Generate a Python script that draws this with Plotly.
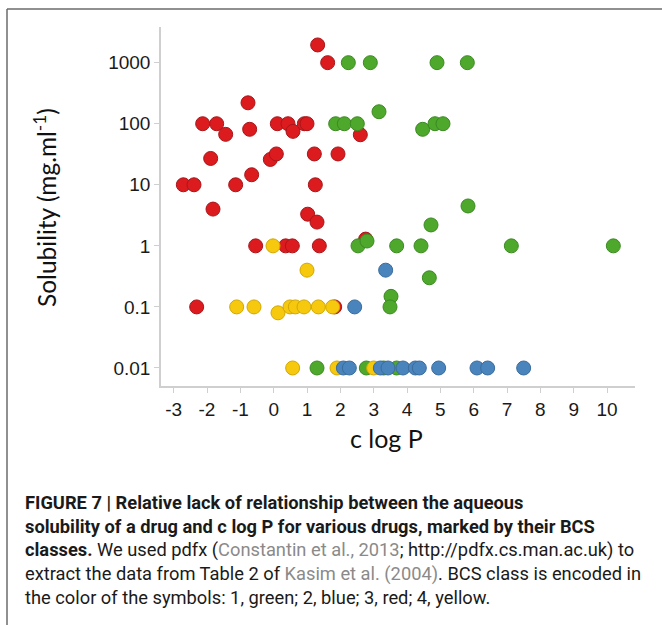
import plotly.graph_objects as go

# ---- data (c log P, solubility mg/ml) by BCS class ----
class3_red_x = [1.32, 1.62, -0.77, -2.13, -1.71, -1.44, -0.72, 0.11, 0.43, 0.58, 0.92, 1.0,
                1.22, 1.93, 2.6, -1.89, -0.1, 0.08, -2.71, -2.39, -1.14, -0.66, 1.25,
                -1.82, 1.02, 1.3, -0.54, 0.36, 0.56, 1.37, 2.76, -2.31, 1.83]
class3_red_y = [1950, 1000, 220, 100, 100, 67, 81, 100, 100, 75, 100, 100,
                32, 32, 66, 27, 26, 32, 10, 10, 10, 14.6, 10,
                4.0, 3.3, 2.45, 1, 1, 1, 1, 1.29, 0.1, 0.1]

class1_green_x = [2.24, 2.9, 4.9, 5.81, 1.86, 2.12, 2.51, 3.16, 4.47, 4.84, 5.08, 5.83,
                  4.72, 2.53, 2.8, 3.69, 4.42, 7.13, 10.19, 4.67, 3.52, 3.49,
                  1.3, 2.78, 3.3, 3.69]
class1_green_y = [1000, 1000, 1000, 1000, 100, 100, 100, 157, 81, 100, 100, 4.5,
                  2.2, 1, 1.2, 1, 1, 1, 1, 0.30, 0.149, 0.1,
                  0.01, 0.01, 0.01, 0.01]

class4_yellow_x = [-0.02, 1.0, -1.11, -0.59, 0.13, 0.49, 0.65, 0.91, 1.34, 1.77, 0.57, 1.9, 3.0]
class4_yellow_y = [1, 0.40, 0.1, 0.1, 0.08, 0.1, 0.1, 0.1, 0.1, 0.1, 0.01, 0.01, 0.01]

class2_blue_x = [3.36, 2.43, 2.09, 2.27, 3.2, 3.43, 3.88, 4.25, 4.37, 4.95, 6.1, 6.42, 7.5]
class2_blue_y = [0.40, 0.1, 0.01, 0.01, 0.01, 0.01, 0.01, 0.01, 0.01, 0.01, 0.01, 0.01, 0.01]

x_ticks = [-3, -2, -1, 0, 1, 2, 3, 4, 5, 6, 7, 8, 9, 10]
x_ticklabels = ["-3", "-2", "-1", "0", "1", "2", "3", "4", "5", "6", "7", "8", "9", "10"]
y_ticks = [0.01, 0.1, 1, 10, 100, 1000]
y_ticklabels = ["0.01", "0.1", "1", "10", "100", "1000"]

series = [
    (class3_red_x, class3_red_y, "#dc1b1f", "#a8161a", "BCS 3"),
    (class1_green_x, class1_green_y, "#4ea82b", "#3b8a22", "BCS 1"),
    (class4_yellow_x, class4_yellow_y, "#f6c90e", "#d2a800", "BCS 4"),
    (class2_blue_x, class2_blue_y, "#4a84bd", "#3a6c9c", "BCS 2"),
]

fig = go.Figure()
for xs, ys, col, lcol, name in series:
    fig.add_trace(go.Scatter(
        x=xs, y=ys, mode="markers", name=name,
        marker=dict(size=14, color=col, line=dict(color=lcol, width=1)),
        showlegend=False,
    ))

L, R, T, B = 161, 27, 27, 239
W, H = 662, 625
pw, ph = W - L - R, H - T - B

tickfont = dict(family="Liberation Sans, Arial, sans-serif", size=19, color="#1a1a1a")

fig.update_layout(
    width=W, height=H,
    margin=dict(l=L, r=R, t=T, b=B, pad=0),
    paper_bgcolor="white", plot_bgcolor="white",
    font=dict(family="Liberation Sans, Arial, sans-serif", color="#1a1a1a"),
)
fig.update_xaxes(
    range=[-3.38, 10.84], tickvals=x_ticks, ticktext=x_ticklabels,
    showgrid=False, zeroline=False,
    showline=True, linecolor="#cfcfcf", linewidth=1.5,
    ticks="outside", ticklen=5, tickcolor="#cfcfcf",
    tickfont=tickfont,
)
fig.update_yaxes(
    type="log", range=[-2.295, 3.584], tickvals=y_ticks, ticktext=y_ticklabels,
    showgrid=False, zeroline=False,
    showline=True, linecolor="#cfcfcf", linewidth=1.5,
    ticks="outside", ticklen=5, tickcolor="#cfcfcf",
    tickfont=tickfont,
)

def px2paper_x(px):
    return (px - L) / pw

def px2paper_y(py):
    return (H - B - py) / ph

# axis titles
fig.add_annotation(text="Solubility (mg.ml<sup>-1</sup>)", textangle=-90,
                   x=px2paper_x(45), y=px2paper_y(208), xref="paper", yref="paper",
                   showarrow=False, xanchor="center", yanchor="middle",
                   font=dict(family="Lato, Open Sans, sans-serif", size=24.5, color="#111"))
fig.add_annotation(text="c log P",
                   x=px2paper_x(386), y=px2paper_y(438), xref="paper", yref="paper",
                   showarrow=False, xanchor="center", yanchor="middle",
                   font=dict(family="Lato, Open Sans, sans-serif", size=25, color="#111"))

# frame lines
fig.add_shape(type="line", xref="paper", yref="paper",
              x0=px2paper_x(7), x1=px2paper_x(662), y0=px2paper_y(9), y1=px2paper_y(9),
              line=dict(color="#6b6b6b", width=1.5))
fig.add_shape(type="line", xref="paper", yref="paper",
              x0=px2paper_x(7), x1=px2paper_x(7), y0=px2paper_y(9), y1=px2paper_y(625),
              line=dict(color="#6b6b6b", width=1.5))

grey = "#8a8a8a"
caption_lines = [
    "<b>FIGURE 7 | Relative lack of relationship between the aqueous</b>",
    "<b>solubility of a drug and c log P for various drugs, marked by their BCS</b>",
    "<b>classes.</b> We used pdfx (<span style='color:%s'>Constantin et al., 2013</span>; http://pdfx.cs.man.ac.uk) to" % grey,
    "extract the data from Table 2 of <span style='color:%s'>Kasim et al. (2004)</span>. BCS class is encoded in" % grey,
    "the color of the symbols: 1, green; 2, blue; 3, red; 4, yellow.",
]
line_y = [502, 526, 550, 574, 597]
for txt, yy in zip(caption_lines, line_y):
    fig.add_annotation(text=txt, x=px2paper_x(23), y=px2paper_y(yy),
                       xref="paper", yref="paper", showarrow=False,
                       xanchor="left", yanchor="middle", align="left",
                       font=dict(family="Roboto, Arial, sans-serif",
                                 size=18.3, color="#1a1a1a"))

fig.write_html("out.html")
